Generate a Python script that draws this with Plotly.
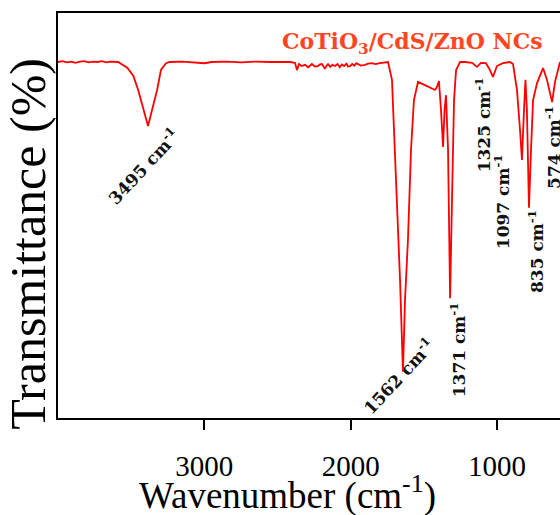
import plotly.graph_objects as go

# FTIR spectrum (wavenumber in cm-1, transmittance in arbitrary %)
wavenumber = [4000, 3970, 3940, 3910, 3880, 3850, 3820, 3790, 3760, 3730, 3700, 3670, 3640, 3610,
              3589, 3527, 3486, 3452, 3385, 3323, 3296, 3262, 3235, 3150, 3080, 3000, 2950, 2850,
              2750, 2650, 2550, 2450, 2415, 2381, 2367, 2353, 2335, 2312, 2290, 2265, 2245, 2224,
              2210, 2196, 2186, 2176, 2165, 2155, 2140, 2125, 2107, 2090, 2075, 2060, 2045, 2030,
              2018, 2005, 1990, 1975, 1962, 1950, 1930, 1903, 1880, 1855, 1830, 1800, 1759,
              1745, 1718, 1691, 1663, 1643, 1629, 1609, 1588, 1568, 1540, 1493, 1458, 1424, 1411,
              1397, 1383, 1369, 1359, 1349, 1335, 1321, 1308, 1294, 1280, 1253, 1219, 1171, 1137,
              1110, 1076, 1048, 1028, 1001, 960, 912, 891, 864, 843, 830, 816, 806, 796, 782, 768,
              754, 727, 706, 686, 659, 624, 604, 583, 570]
transmittance = [87.9, 88.1, 87.8, 88.0, 87.7, 88.0, 88.1, 87.8, 88.0, 87.9, 88.1, 87.8, 88.0, 87.9,
                 87.9, 86.5, 84.5, 81.0, 72.1, 81.0, 86.0, 87.6, 87.9, 88.0, 87.8, 87.6, 87.9, 88.0,
                 87.8, 88.0, 87.9, 88.0, 87.9, 87.7, 85.9, 87.4, 86.9, 87.2, 86.6, 87.4, 86.8, 86.9,
                 87.3, 87.4, 86.6, 86.2, 87.0, 87.4, 86.7, 87.2, 86.9, 87.4, 86.6, 87.3, 86.9, 87.5,
                 86.8, 86.9, 87.4, 87.0, 87.6, 87.4, 87.0, 87.2, 87.5, 87.6, 87.4, 87.6, 87.9,
                 87.9, 83.5, 61.2, 34.1, 11.4, 29.1, 43.9, 66.2, 78.5, 83.0, 82.2, 81.5, 81.0, 81.7,
                 83.2, 76.0, 66.9, 76.0, 79.7, 66.2, 29.6, 53.8, 78.5, 85.9, 87.9, 87.9, 87.7, 86.7,
                 87.7, 87.6, 85.9, 84.2, 86.9, 87.6, 87.9, 87.4, 81.0, 71.1, 63.7, 76.0, 83.5, 76.0,
                 51.9, 66.2, 78.5, 82.7, 84.7, 86.4, 83.5, 78.0, 83.0, 85.9, 87.9]

# peak labels: text, anchor wavenumber, anchor transmittance, angle
peak_labels = ["3495 cm<sup>-1</sup>", "1562 cm<sup>-1</sup>", "1371 cm<sup>-1</sup>",
               "1325 cm<sup>-1</sup>", "1097 cm<sup>-1</sup>", "835 cm<sup>-1</sup>",
               "574 cm<sup>-1</sup>"]
label_x = [3415, 1673, 1265, 1095, 966, 735, 619]
label_y = [62.2, 10.4, 16.8, 72.3, 53.3, 41.2, 66.9]
label_angle = [-47, -47, -90, -90, -90, -90, -90]

tick_vals = [3000, 2000, 1000]
tick_text = ["3000", "2000", "1000"]

fig = go.Figure()
fig.add_trace(go.Scatter(x=wavenumber, y=transmittance, mode="lines",
                         line=dict(color="#FF0000", width=1.8), showlegend=False,
                         hoverinfo="skip"))

annotations = []
for t, x, y, a in zip(peak_labels, label_x, label_y, label_angle):
    annotations.append(dict(x=x, y=y, xref="x", yref="y", text="<b>" + t + "</b>",
                            showarrow=False, textangle=a, xanchor="center", yanchor="middle",
                            font=dict(family="DejaVu Serif", size=17, color="#111111")))

annotations.append(dict(x=0.707, y=0.926, xref="paper", yref="paper",
                        text="<b>CoTiO<sub>3</sub>/CdS/ZnO NCs</b>", showarrow=False,
                        xanchor="center", yanchor="middle",
                        font=dict(family="DejaVu Serif", size=22, color="#FF4521")))
annotations.append(dict(x=0.458, y=-0.186, xref="paper", yref="paper",
                        text="Wavenumber (cm<sup>-1</sup>)", showarrow=False,
                        xanchor="center", yanchor="middle",
                        font=dict(family="Liberation Serif", size=37, color="black")))
annotations.append(dict(x=-0.06, y=0.43, xref="paper", yref="paper",
                        text="Transmittance (%)", showarrow=False, textangle=-90,
                        xanchor="center", yanchor="middle",
                        font=dict(family="Liberation Serif", size=50, color="black")))

fig.update_layout(
    width=560, height=515,
    margin=dict(l=58, r=0, t=13, b=97),
    plot_bgcolor="white", paper_bgcolor="white",
    annotations=annotations,
    xaxis=dict(range=[4000, 570], tickvals=tick_vals, ticktext=tick_text,
               ticks="outside", ticklen=10, tickwidth=2, tickcolor="black",
               showline=True, linewidth=2, linecolor="black", mirror=True,
               showgrid=False, zeroline=False, ticklabelstandoff=11,
               tickfont=dict(family="Liberation Serif", size=29, color="black")),
    yaxis=dict(range=[0, 100], showticklabels=False, ticks="",
               showline=True, linewidth=2, linecolor="black", mirror=False,
               showgrid=False, zeroline=False),
)

fig.write_html("out.html", config={"displayModeBar": False},
               post_script="document.body.style.margin='0px';")
